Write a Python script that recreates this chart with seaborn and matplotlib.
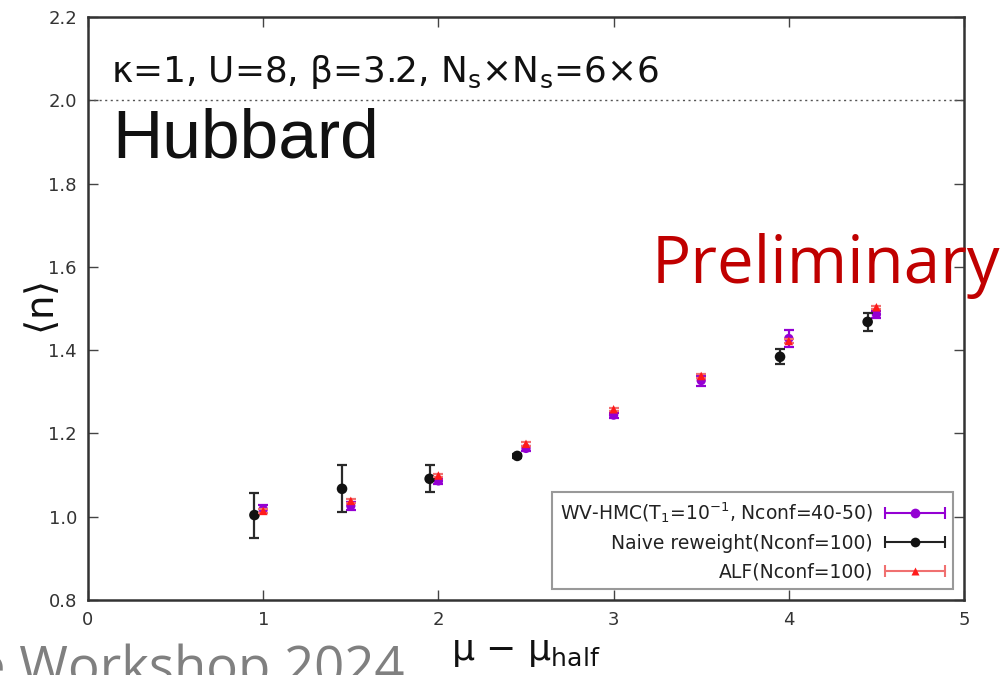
import numpy as np
import pandas as pd
import matplotlib
matplotlib.use("Agg")
import matplotlib.pyplot as plt
import seaborn as sns
from matplotlib.lines import Line2D
from matplotlib.legend_handler import HandlerBase

# --- data -------------------------------------------------------------
wv_x = [1.0, 1.5, 2.0, 2.5, 3.0, 3.5, 4.0, 4.5]
wv_n = [1.018, 1.026, 1.086, 1.164, 1.244, 1.327, 1.428, 1.486]
wv_err = [0.010, 0.010, 0.008, 0.006, 0.006, 0.012, 0.021, 0.008]

naive_x = [0.95, 1.45, 1.95, 2.45, 3.95, 4.45]
naive_n = [1.004, 1.067, 1.091, 1.146, 1.384, 1.468]
naive_err = [0.054, 0.056, 0.032, 0.005, 0.018, 0.022]

alf_x = [1.0, 1.5, 2.0, 2.5, 3.0, 3.5, 4.0, 4.5]
alf_n = [1.014, 1.038, 1.099, 1.175, 1.258, 1.338, 1.422, 1.503]
alf_err = [0.004, 0.004, 0.004, 0.004, 0.004, 0.004, 0.004, 0.004]

series_labels = [
    r"WV-HMC(T$_\mathregular{1}$=10$^\mathregular{-1}$, Nconf=40-50)",
    "Naive reweight(Nconf=100)",
    "ALF(Nconf=100)",
]
x_ticks = [0, 1, 2, 3, 4, 5]
y_ticks = [0.8, 1.0, 1.2, 1.4, 1.6, 1.8, 2.0, 2.2]

# --- style ------------------------------------------------------------
sns.set_theme(style="ticks")
plt.rcParams["font.family"] = ["DejaVu Sans"]
plt.rcParams["mathtext.fontset"] = "dejavusans"

purple = "#9400D3"
black = "#111111"
red = "#FF1A1A"
red_bar = "#F07070"

fig = plt.figure(figsize=(10.03, 6.75), dpi=100)
ax = fig.add_axes([88 / 1003, 1 - 600 / 675, 876 / 1003, 583 / 675])

frames = []
for name, xs, ys, es in [("wv", wv_x, wv_n, wv_err),
                         ("naive", naive_x, naive_n, naive_err),
                         ("alf", alf_x, alf_n, alf_err)]:
    frames.append(pd.DataFrame({"mu": xs, "n": ys, "err": es, "series": name}))
data = pd.concat(frames, ignore_index=True)

styles = {
    "wv": dict(color=purple, bar=purple, marker="o", s=45),
    "naive": dict(color=black, bar="#2a2a2a", marker="o", s=58),
    "alf": dict(color=red, bar=red_bar, marker="^", s=38),
}

z = 3
for name in ["wv", "naive", "alf"]:
    d = data[data["series"] == name]
    st = styles[name]
    ax.errorbar(d["mu"], d["n"], yerr=d["err"], fmt="none", ecolor=st["bar"],
                elinewidth=1.6, capsize=3.4, capthick=1.6, zorder=z)
    sns.scatterplot(data=d, x="mu", y="n", ax=ax, color=st["color"],
                    marker=st["marker"], s=st["s"], edgecolor="none",
                    linewidth=0, legend=False, zorder=z + 1)
    z += 2

# half-filling reference line
ax.axhline(2.0, color="#555555", lw=1.0, ls=(0, (1.5, 2.5)), zorder=1)

ax.set_xlim(0, 5)
ax.set_ylim(0.8, 2.2)
ax.set_xticks(x_ticks)
ax.set_yticks(y_ticks)
ax.set_xticklabels([str(t) for t in x_ticks])
ax.set_yticklabels([f"{t:.1f}" for t in y_ticks])
ax.tick_params(direction="in", length=7, width=1.0, top=True, right=True,
               labelsize=13, labelcolor="#333333", color="#444444", pad=8)
for sp in ax.spines.values():
    sp.set_linewidth(1.8)
    sp.set_color("#333333")

ax.set_xlabel(r"μ − μ$_\mathregular{half}$", fontsize=26, labelpad=4,
              color="#111111")
ax.set_ylabel(r"$\langle$n$\rangle$", fontsize=28, color="#111111")
ax.yaxis.set_label_coords(-0.03, 0.5)


# legend with horizontal error-bar samples, text to the left
class HBarHandler(HandlerBase):
    def create_artists(self, legend, orig_handle, xdescent, ydescent,
                       width, height, fontsize, trans):
        y = height / 2 - ydescent
        x0, x1 = -xdescent, width - xdescent
        bar = Line2D([x0, x1], [y, y], color=orig_handle.get_color(), lw=1.5)
        caps = Line2D([x0, x1], [y, y], ls="none", marker="|", ms=8,
                      mew=1.5, color=orig_handle.get_color())
        mk = Line2D([(x0 + x1) / 2], [y], ls="none",
                    marker=orig_handle.get_marker(),
                    ms=orig_handle.get_markersize(),
                    color=orig_handle.get_markerfacecolor(), mec="none")
        for a in (bar, caps, mk):
            a.set_transform(trans)
        return [bar, caps, mk]


handles = [
    Line2D([], [], color=purple, marker="o", markersize=7, markerfacecolor=purple),
    Line2D([], [], color="#222222", marker="o", markersize=7, markerfacecolor=black),
    Line2D([], [], color=red_bar, marker="^", markersize=6, markerfacecolor=red),
]
leg = ax.legend(handles, series_labels, loc="lower right",
                bbox_to_anchor=(0.987, 0.019), borderaxespad=0,
                markerfirst=False, fontsize=13.5, handlelength=3.2,
                handletextpad=0.65, labelspacing=0.5, borderpad=0.4,
                fancybox=False, framealpha=1,
                handler_map={Line2D: HBarHandler()})
leg.get_frame().set_edgecolor("#999999")
leg.get_frame().set_linewidth(1.5)
for t in leg.get_texts():
    t.set_color("#222222")

# annotations
fig.text(111 / 1003, 1 - 82 / 675,
         r"κ=1, U=8, β=3.2, N$_\mathregular{s}$×N$_\mathregular{s}$=6×6",
         fontsize=25.8, va="baseline", ha="left", color="#111111")
fig.text(112 / 1003, 1 - 157 / 675, "Hubbard", fontsize=50,
         va="baseline", ha="left", color="#111111",
         family=["Liberation Sans", "DejaVu Sans"])
fig.text(652 / 1003, 1 - 283 / 675, "Preliminary", fontsize=47,
         va="baseline", ha="left", color="#C00000",
         family=["Open Sans", "DejaVu Sans"])
fig.text(405 / 1003, 1 - 684 / 675, "e Workshop 2024", fontsize=38,
         va="baseline", ha="right", color="#808080",
         family=["Open Sans", "DejaVu Sans"])

fig.savefig("out.png", dpi=100)
